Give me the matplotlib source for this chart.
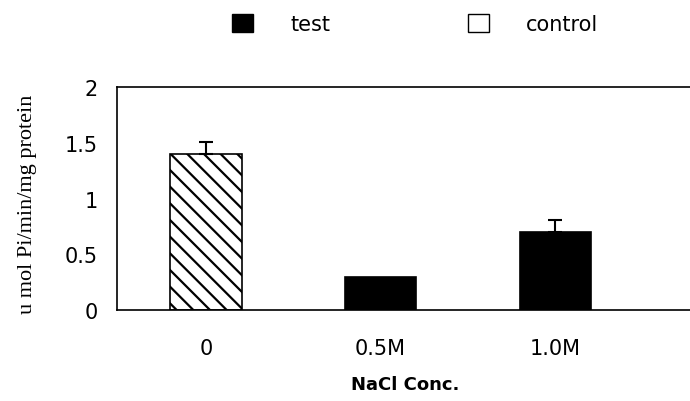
import numpy as np
import matplotlib.pyplot as plt
from matplotlib.patches import Patch

# data
categories = ['0', '0.5M', '1.0M']
values = [1.40, 0.30, 0.70]
errors = [0.11, 0.0, 0.11]
groups = ['control', 'test', 'test']

yticks = [0, 0.5, 1, 1.5, 2]
yticklabels = ['0', '0.5', '1', '1.5', '2']


def run():
    plt.rcParams['font.family'] = ['DejaVu Sans']
    plt.rcParams['hatch.linewidth'] = 1.6
    fig = plt.figure(figsize=(6.9, 4.02), dpi=100)
    ax = fig.add_axes([0.170, 0.226, 0.835, 0.555])

    x = np.arange(len(categories))
    for xi, v, e, g in zip(x, values, errors, groups):
        if g == 'control':
            ax.bar(xi, v, width=0.41, facecolor='white', edgecolor='black',
                   hatch='\\\\', linewidth=1.2)
        else:
            ax.bar(xi, v, width=0.41, facecolor='black', edgecolor='black',
                   linewidth=1.2)
        if e > 0:
            ax.errorbar(xi, v, yerr=[[0], [e]], fmt='none', ecolor='black',
                        elinewidth=1.5, capsize=5, capthick=1.5)

    ax.set_xlim(-0.506, 2.79)
    ax.set_ylim(0, 2)
    ax.set_yticks(yticks)
    ax.set_yticklabels(yticklabels, fontsize=15)
    ax.set_xticks(x)
    ax.set_xticklabels(categories, fontsize=15)
    ax.tick_params(axis='both', length=0)
    ax.tick_params(axis='y', pad=14)
    ax.tick_params(axis='x', pad=20)

    ax.spines['right'].set_visible(False)
    for s in ['left', 'top', 'bottom']:
        ax.spines[s].set_linewidth(1.2)

    ax.set_xlabel('NaCl Conc.', fontsize=13, fontweight='bold', labelpad=12)
    fig.text(0.04, 0.492, 'u mol Pi/min/mg protein', rotation=90,
             ha='center', va='center', fontsize=16, family='Liberation Serif')

    handles = [Patch(facecolor='black', edgecolor='black'),
               Patch(facecolor='white', edgecolor='black')]
    fig.legend(handles, ['test', 'control'], ncol=2, loc='center',
               bbox_to_anchor=(0.602, 0.938), frameon=False, fontsize=15,
               handlelength=1.0, handleheight=1.0, handletextpad=1.8,
               columnspacing=6.6)

    fig.savefig('out.png', dpi=100)


if __name__ == '__main__':
    run()
